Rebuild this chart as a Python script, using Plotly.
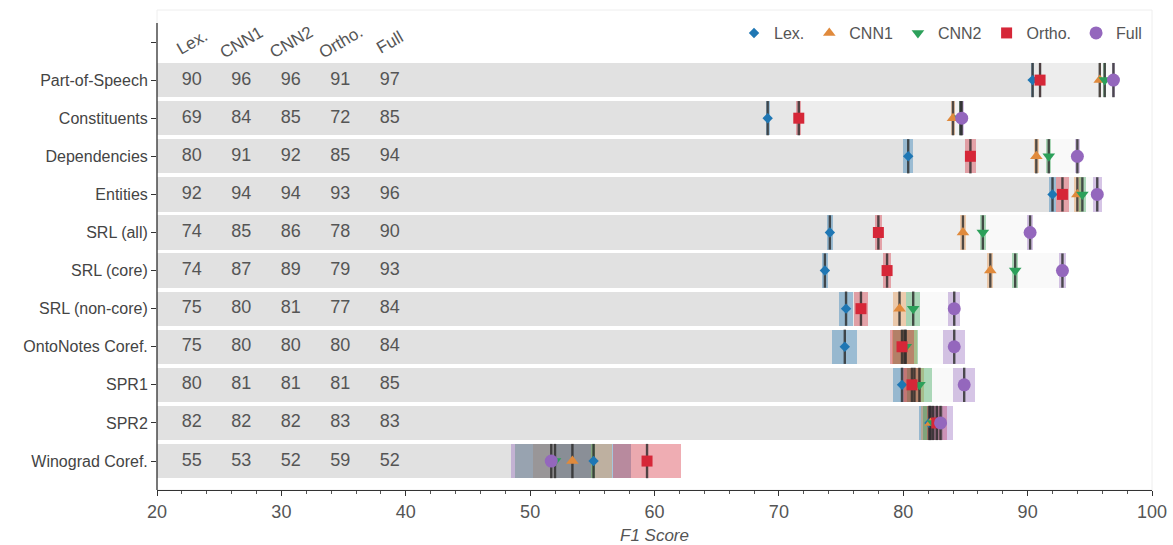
import plotly.graph_objects as go

# ---------------- data ----------------
tasks = ["Part-of-Speech", "Constituents", "Dependencies", "Entities", "SRL (all)",
         "SRL (core)", "SRL (non-core)", "OntoNotes Coref.", "SPR1", "SPR2", "Winograd Coref."]
models = ["Lex.", "CNN1", "CNN2", "Ortho.", "Full"]

lex   = [90.4, 69.1, 80.4, 92.0, 74.1, 73.7, 75.4, 75.3, 79.9, 82.1, 55.1]
cnn1  = [95.8, 84.0, 90.7, 94.0, 84.8, 87.0, 79.7, 80.1, 80.9, 82.2, 53.4]
cnn2  = [96.2, 84.6, 91.7, 94.4, 86.4, 89.0, 80.8, 80.2, 81.3, 82.4, 52.0]
ortho = [91.0, 71.6, 85.4, 92.8, 78.0, 78.7, 76.6, 79.9, 80.7, 82.7, 59.4]
full  = [96.9, 84.7, 94.0, 95.6, 90.2, 92.8, 84.1, 84.1, 84.9, 83.0, 51.7]

# half-widths of the confidence intervals
lex_ci   = [0.10, 0.15, 0.40, 0.25, 0.25, 0.25, 0.55, 1.00, 0.70, 0.80, 3.00]
cnn1_ci  = [0.10, 0.15, 0.20, 0.30, 0.25, 0.25, 0.55, 1.00, 0.80, 0.80, 3.20]
cnn2_ci  = [0.10, 0.15, 0.20, 0.30, 0.25, 0.25, 0.55, 1.00, 1.00, 0.80, 3.20]
ortho_ci = [0.10, 0.20, 0.45, 0.50, 0.30, 0.30, 0.60, 1.00, 0.70, 0.80, 2.70]
full_ci  = [0.10, 0.15, 0.20, 0.35, 0.25, 0.25, 0.50, 0.90, 0.90, 1.00, 3.20]

x_ticks = [20, 30, 40, 50, 60, 70, 80, 90, 100]

# ---------------- style ----------------
scores = [lex, cnn1, cnn2, ortho, full]
cis = [lex_ci, cnn1_ci, cnn2_ci, ortho_ci, full_ci]
colors = ["#1f77b4", "#e08a3c", "#2ca05a", "#d62738", "#9467bd"]
band_colors = ["rgba(31,119,180,0.38)", "rgba(230,140,60,0.38)", "rgba(44,160,80,0.38)",
               "rgba(214,39,56,0.38)", "rgba(148,103,189,0.38)"]
symbols = ["diamond", "triangle-up", "triangle-down", "square", "circle"]
sizes = [8, 11, 11, 11, 13]
col_x = [22.8 + 3.98 * i for i in range(5)]
FONT = "Liberation Sans, Arial, sans-serif"

rows = list(range(1, len(tasks) + 1))

fig = go.Figure()

# grey layered bars
for vals in scores:
    fig.add_trace(go.Bar(x=[v - 20 for v in vals], base=20, y=rows, orientation="h",
                         width=0.9, marker=dict(color="rgba(0,0,0,0.023)", line=dict(width=0)),
                         showlegend=False, hoverinfo="skip"))

# confidence bands
for vals, ci, bc in zip(scores, cis, band_colors):
    fig.add_trace(go.Bar(x=[2 * c for c in ci], base=[v - c for v, c in zip(vals, ci)], y=rows,
                         orientation="h", width=0.9,
                         marker=dict(color=bc, line=dict(width=0)),
                         showlegend=False, hoverinfo="skip"))

# markers with vertical lines
for name, vals, col, sym, sz in zip(models, scores, colors, symbols, sizes):
    fig.add_trace(go.Scatter(x=vals, y=rows, mode="markers", name=name,
                             marker=dict(symbol=sym, size=sz, color=col, line=dict(width=0)),
                             error_y=dict(type="constant", value=0.45, color="rgba(40,40,40,0.8)",
                                          thickness=2.4, width=0)))

# table numbers
for vals, cx in zip(scores, col_x):
    fig.add_trace(go.Scatter(x=[cx] * len(vals), y=rows, mode="text",
                             text=[str(round(v)) for v in vals],
                             textfont=dict(size=18, color="#555", family=FONT),
                             showlegend=False, hoverinfo="skip"))

# table header
for name, cx in zip(models, col_x):
    fig.add_annotation(x=cx, y=0, text=name, showarrow=False, textangle=-30,
                       font=dict(size=17, color="#555", family=FONT))

# y-axis spine (restricted) and faint frame
fig.add_shape(type="line", xref="paper", yref="y", x0=0, x1=0, y0=-0.5, y1=11.76,
              line=dict(color="#333", width=1.3))
fig.add_shape(type="rect", xref="paper", yref="paper", x0=0, x1=1, y0=0, y1=1,
              line=dict(color="#eeeeee", width=1), layer="below")

fig.update_layout(
    width=1173, height=545,
    margin=dict(l=157, r=21, t=10, b=55, autoexpand=False),
    paper_bgcolor="white", plot_bgcolor="white",
    barmode="overlay", bargap=0,
    font=dict(family=FONT, color="#444"),
    legend=dict(orientation="h", x=0.995, xanchor="right", y=0.952, yanchor="middle",
                font=dict(size=16, color="#555", family=FONT), bgcolor="rgba(0,0,0,0)",
                itemwidth=30, tracegroupgap=0),
    xaxis=dict(range=[20, 100], tickvals=x_ticks, ticks="outside", ticklen=5, tickwidth=1.2,
               tickcolor="#333", showline=True, linecolor="#333", linewidth=1.3,
               showgrid=False, zeroline=False, automargin=False,
               tickfont=dict(size=18, color="#555", family=FONT),
               minor=dict(dtick=2, ticks="outside", ticklen=3, tickcolor="#555", showgrid=False),
               title=dict(text="<i>F1 Score</i>", font=dict(size=17, color="#555", family=FONT),
                          standoff=11)),
    yaxis=dict(range=[11.76, -0.84], tickvals=[0] + rows, ticktext=[""] + tasks,
               ticks="outside", ticklen=5, tickwidth=1.2, tickcolor="#333",
               showline=False, showgrid=False, zeroline=False, automargin=False,
               tickfont=dict(size=16, color="#444", family=FONT)),
)

fig.write_html("out.html", config={"displayModeBar": False},
               post_script="document.body.style.margin='0';document.body.style.overflow='hidden';")
